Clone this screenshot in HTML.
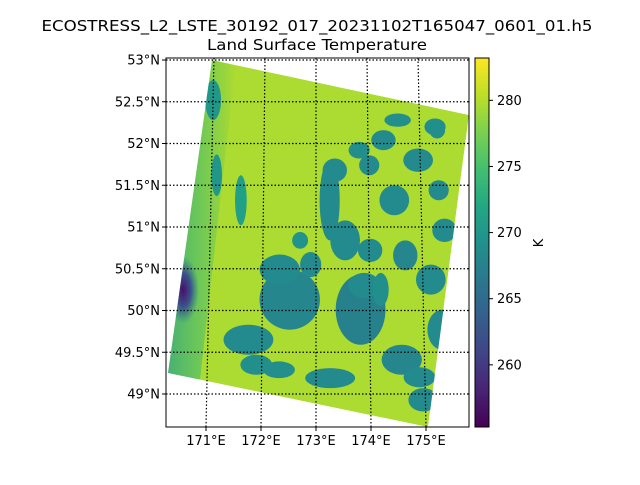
<!DOCTYPE html>
<html><head><meta charset="utf-8"><style>
body{margin:0;background:#fff;width:640px;height:480px;overflow:hidden;font-family:"Liberation Sans","DejaVu Sans",sans-serif}
svg text{font-family:"DejaVu Sans","Liberation Sans",sans-serif}
</style></head><body>
<svg id="chart" width="640" height="480" xmlns="http://www.w3.org/2000/svg">
<text x="317" y="31" font-size="15" text-anchor="middle" textLength="551" lengthAdjust="spacingAndGlyphs">ECOSTRESS_L2_LSTE_30192_017_20231102T165047_0601_01.h5</text>
<text x="317" y="50" font-size="15" text-anchor="middle" textLength="220" lengthAdjust="spacingAndGlyphs">Land Surface Temperature</text>
<defs>
<clipPath id="swathClip"><polygon points="212,60 469,115 428,427 168,373"/></clipPath>
<clipPath id="axClip"><rect x="166" y="58" width="303" height="369"/></clipPath>
<linearGradient id="cbGrad" x1="0" y1="1" x2="0" y2="0"></linearGradient>
<linearGradient id="leftGrad" x1="0" y1="0" x2="1" y2="0">
<stop offset="0" stop-color="#2a9a8a" stop-opacity="0.95"/><stop offset="0.6" stop-color="#35b779" stop-opacity="0.5"/><stop offset="1" stop-color="#35b779" stop-opacity="0"/>
</linearGradient>
<radialGradient id="purpleGrad">
<stop offset="0" stop-color="#46106a"/><stop offset="0.5" stop-color="#3b528b"/><stop offset="1" stop-color="#2a788e" stop-opacity="0"/>
</radialGradient>
</defs>
<g id="mapLayer" clip-path="url(#axClip)"></g>
<g id="gridLayer"></g>
<rect x="166" y="58" width="303" height="369" fill="none" stroke="#000" stroke-width="1"/>
<g id="axisLayer"></g>
<rect x="475" y="58" width="14" height="369" fill="url(#cbGrad)" stroke="#000" stroke-width="1"/>
<g id="cbLayer"></g>
<text x="0" y="0" font-size="13" text-anchor="middle" transform="translate(543,243) rotate(-90)">K</text>
</svg>
<script>
const latTicks=[53,52.5,52,51.5,51,50.5,50,49.5,49];
const lonTicks=[171,172,173,174,175,176];
const cbTicks=[260,265,270,275,280];
const cbMin=255.3, cbMax=283.2;
const baseTemp=279.7;
// blobs: lon, lat, radius lon (deg), radius lat (deg), temperature (K)
const blobLon=[172.51,172.32,173.83,173.26,173.55,171.75,173.26,174.58,174.96,174.49,174.30,174.96,175.43,175.15,175.34,174.02,174.68,171.57,175.34,173.36,174.02,171.0,173.9,174.9,172.9,171.9,175.3,173.83,174.58,175.34,172.32,175.53,174.21,172.7,171.1];
const blobLat=[50.13,50.49,50.01,51.32,50.84,49.65,49.19,49.41,48.93,51.32,52.04,51.80,50.96,50.37,49.77,50.72,50.66,51.32,51.44,51.68,51.74,52.52,50.3,49.2,50.55,49.35,52.2,51.92,52.28,52.16,49.29,49.17,50.25,50.84,51.62];
const blobRLon=[0.57,0.38,0.47,0.19,0.28,0.47,0.47,0.38,0.28,0.28,0.23,0.28,0.23,0.28,0.28,0.23,0.23,0.11,0.19,0.23,0.19,0.15,0.3,0.3,0.2,0.3,0.2,0.2,0.25,0.15,0.3,0.15,0.15,0.15,0.1];
const blobRLat=[0.36,0.18,0.42,0.48,0.24,0.18,0.12,0.18,0.14,0.18,0.12,0.14,0.14,0.18,0.24,0.14,0.18,0.30,0.12,0.14,0.12,0.24,0.15,0.12,0.15,0.12,0.1,0.1,0.08,0.1,0.1,0.1,0.2,0.1,0.25];
const blobTemp=[268,268.5,267.5,268.5,268.5,268.5,268.5,268,268.5,268.5,268.5,268.5,268.5,268.5,268.5,268.5,268,271,268.5,268.5,268.5,270,268.5,268.5,268.5,269,269,269,269,269,269,269,269,269.5,270];

const NS="http://www.w3.org/2000/svg";
function yOf(lat){return 60+(53-lat)*83.5;}
function xOf(lon,lat){const y=yOf(lat);const t=(y-58)/369;const xt=316+(lon-173)*51;const xb=316+(lon-173)*55;return xt+t*(xb-xt);}
const vir=[[0,68,1,84],[0.1,72,36,117],[0.2,65,68,135],[0.3,53,95,141],[0.4,42,120,142],[0.5,33,145,140],[0.6,34,168,132],[0.7,68,191,112],[0.8,122,209,81],[0.9,189,223,38],[1,253,231,37]];
function viridis(t){t=Math.max(0,Math.min(1,t));for(let i=1;i<vir.length;i++){if(t<=vir[i][0]){const a=vir[i-1],b=vir[i];const f=(t-a[0])/(b[0]-a[0]);return `rgb(${Math.round(a[1]+f*(b[1]-a[1]))},${Math.round(a[2]+f*(b[2]-a[2]))},${Math.round(a[3]+f*(b[3]-a[3]))})`;}}return "rgb(253,231,37)";}
function color(k){return viridis((k-cbMin)/(cbMax-cbMin));}
function mk(tag,attrs,parent){const e=document.createElementNS(NS,tag);for(const k in attrs)e.setAttribute(k,attrs[k]);parent.appendChild(e);return e;}

const grad=document.getElementById('cbGrad');
for(let i=0;i<=10;i++){const s=document.createElementNS(NS,'stop');s.setAttribute('offset',i/10);s.setAttribute('stop-color',viridis(i/10));grad.appendChild(s);}

const map=document.getElementById('mapLayer');
const sw=mk('g',{'clip-path':'url(#swathClip)'},map);


const base=mk('polygon',{points:'212,60 469,115 428,427 168,373',fill:color(baseTemp)},sw);


const strip=mk('polygon',{points:'160,60 236,60 200,380 150,380',fill:'url(#leftGrad)'},sw);


for(let i=0;i<blobLon.length;i++){
  const cx=xOf(blobLon[i],blobLat[i]),cy=yOf(blobLat[i]);
  const rx=blobRLon[i]*53,ry=blobRLat[i]*83.5;
  const e=mk('ellipse',{cx:cx,cy:cy,rx:rx,ry:ry,fill:color(blobTemp[i])},sw);
  
  
}
const pur=mk('ellipse',{cx:183,cy:290,rx:16,ry:34,fill:'url(#purpleGrad)'},sw);



const grid=document.getElementById('gridLayer');
const ax=document.getElementById('axisLayer');
latTicks.forEach(lat=>{
  const y=yOf(lat);
  const l=mk('line',{x1:166,x2:469,y1:y,y2:y,stroke:'#000','stroke-width':1.2,'stroke-dasharray':'1.5,2'},grid);
  
  
  const tk=mk('line',{x1:162,x2:166,y1:y,y2:y,stroke:'#000'},ax);
  
  
  const t=mk('text',{x:160,y:y+4.5,'font-size':13,'text-anchor':'end'},ax);
  t.textContent=lat+'°N';
  
  
});
lonTicks.forEach(lon=>{
  const x1=316+(lon-173)*51,x2=316+(lon-173)*55;
  const l=mk('line',{x1:x1,y1:58,x2:x2,y2:427,stroke:'#000','stroke-width':1.2,'stroke-dasharray':'1.5,2'},grid);
  
  
  if(x2<469){
    const tk=mk('line',{x1:x2,x2:x2,y1:427,y2:431,stroke:'#000'},ax);
    
    
    const t=mk('text',{x:x2,y:445,'font-size':13,'text-anchor':'middle'},ax);
    t.textContent=lon+'°E';
    
    
  }
});
grid.setAttribute('clip-path','url(#axClip)');

const cb=document.getElementById('cbLayer');
cbTicks.forEach(v=>{
  const y=427-(v-cbMin)/(cbMax-cbMin)*369;
  const tk=mk('line',{x1:489,x2:493,y1:y,y2:y,stroke:'#000'},cb);
  
  
  const t=mk('text',{x:497,y:y+4.5,'font-size':13},cb);
  t.textContent=v;
  
  
});
</script>
</body></html>
